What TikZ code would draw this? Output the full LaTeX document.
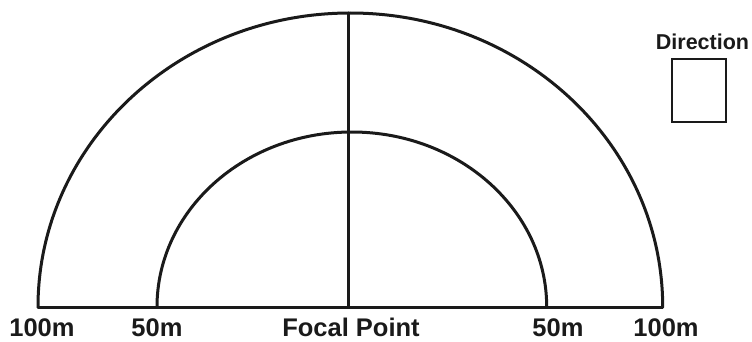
\documentclass[tikz,border=0pt]{standalone}
\usepackage{fontspec}
\setmainfont{Liberation Sans}
\usetikzlibrary{positioning}
\definecolor{Ink}{HTML}{1A1A1A}
\tikzset{
  ring/.style={draw=Ink,line width=3pt,line cap=round},
  distlabel/.style={anchor=base,inner sep=0pt,font=\fontsize{25.5}{25.5}\selectfont\bfseries,text=Ink},
  dirlabel/.style={anchor=base,inner sep=0pt,font=\fontsize{21.5}{21.5}\selectfont\bfseries,text=Ink},
  dirbox/.style={draw=Ink,line width=1.5pt,minimum width=54pt,minimum height=63pt,inner sep=0pt}
}

\begin{document}
\begin{tikzpicture}[x=1pt,y=1pt]
  \useasboundingbox (0,0) rectangle (752,341);
  % ground line and the two rings
  \coordinate (outerL) at (38,34);
  \coordinate (outerR) at (662.7,34);
  \coordinate (innerL) at (157,34);
  \coordinate (focal) at (348,34);
  \coordinate (top) at (348,328);
  \draw[ring] (outerL) -- (outerR);
  \draw[ring] (outerL) arc[start angle=180,end angle=0,x radius=312.35,y radius=294];
  \draw[ring] (innerL) arc[start angle=180,end angle=0,x radius=194.85,y radius=175];
  \draw[ring] (focal) -- (top);
  % distance labels
  \node[distlabel] (lbl100L) at (42,5) {100m};
  \node[distlabel] (lbl50L) at (157,5) {50m};
  \node[distlabel] (lblfocal) at (351,5) {Focal Point};
  \node[distlabel] (lbl50R) at (558,5) {50m};
  \node[distlabel] (lbl100R) at (666,5) {100m};
  % direction key
  \node[dirlabel] (dir) at (702.5,292) {Direction};
  \node[dirbox] (dirkey) at (699,250.5) {};
\end{tikzpicture}
\end{document}
